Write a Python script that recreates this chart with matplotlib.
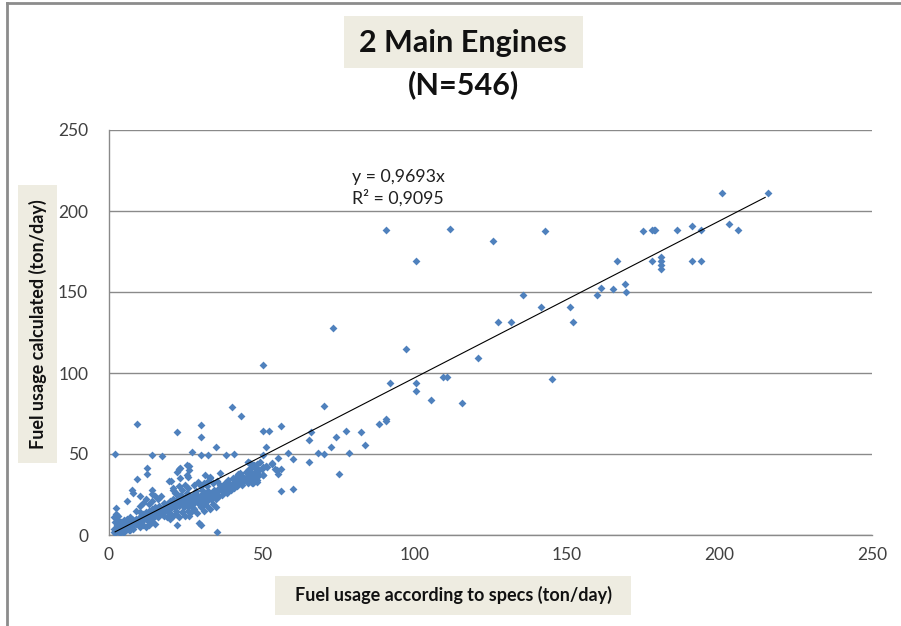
import matplotlib
matplotlib.use("Agg")
import matplotlib.pyplot as plt
from matplotlib.patches import Rectangle
from matplotlib.lines import Line2D

# --- data (spec fuel, calculated fuel), ton/day ---
# sparse points, x > ~45
spec_sparse = [90.7, 111.8, 125.8, 143.0, 100.7, 166.4, 161.2, 165.2, 169.0, 169.3,
               159.9, 135.6, 141.6, 151.0, 151.9, 127.6, 131.7, 97.4, 120.8, 92.1,
               100.7, 100.7, 109.6, 110.7, 145.3, 105.6, 115.8, 90.7, 201.0, 216.0,
               175.0, 177.9, 178.5, 179.0, 186.1, 191.1, 194.0, 203.0, 206.0, 177.9,
               180.9, 180.9, 180.9, 180.9, 191.1, 194.0, 73.5, 50.5, 70.4, 88.5,
               90.6, 56.4, 50.5, 52.5, 66.2, 77.6, 82.6, 65.4, 74.4, 72.6,
               83.8, 51.5, 50.5, 58.6, 68.5, 70.4, 78.5, 55.4, 60.4, 65.4,
               53.3, 50.5, 51.5, 48.4, 54.4, 56.4, 55.5, 50.5, 75.4, 47.9,
               48.4, 46.8, 56.4, 60.4, 46.2, 45.7, 47.3, 48.4, 47.1, 48.6,
               50.4, 51.9, 53.3, 55.0]
calc_sparse = [188.0, 189.0, 181.3, 187.6, 169.0, 169.0, 152.5, 151.9, 155.0, 150.0,
               148.3, 148.3, 140.7, 140.7, 131.3, 131.3, 131.3, 115.0, 109.0, 93.8,
               93.8, 89.0, 97.3, 97.3, 96.3, 83.3, 81.7, 71.4, 211.3, 211.3,
               187.9, 188.0, 188.0, 188.0, 188.0, 190.7, 188.0, 192.0, 188.0, 169.0,
               171.4, 169.0, 166.5, 164.0, 169.0, 169.0, 128.0, 105.0, 79.6, 68.5,
               70.4, 67.5, 64.0, 64.4, 63.4, 64.0, 63.4, 58.6, 60.5, 54.5,
               55.8, 54.5, 49.4, 50.4, 50.4, 50.0, 50.4, 47.7, 46.9, 45.0,
               44.0, 42.0, 42.4, 40.6, 40.6, 40.6, 37.7, 37.0, 37.7, 36.0,
               32.9, 31.9, 27.2, 28.2, 44.4, 45.2, 43.2, 41.2, 32.3, 34.0,
               37.0, 42.2, 44.3, 40.1]

# scattered points around the dense cluster, x < ~45
spec_spread = [40.3, 43.3, 9.1, 22.2, 30.3, 30.3, 35.2, 27.2, 2.0, 14.1,
               17.3, 30.3, 32.6, 38.4, 40.9, 45.6, 47.5, 12.4, 12.4, 22.9,
               22.2, 26.3, 25.4, 26.0, 9.1, 19.5, 20.2, 33.1, 32.6, 35.3,
               41.9, 42.4, 45.7, 7.4, 8.0, 14.1, 14.1, 21.1, 21.6, 2.3,
               2.3, 5.8, 10.2, 26.3, 28.7, 29.4, 30.3, 22.2, 35.3, 39.1,
               40.8, 31.5, 33.1, 34.2, 36.4, 38.6, 40.2, 42.4, 42.9, 23.3,
               23.3, 24.4, 26.0, 27.6, 25.5, 26.2]
calc_spread = [79.2, 73.5, 68.7, 63.4, 68.1, 60.5, 54.5, 51.2, 50.2, 49.4,
               49.0, 49.4, 49.4, 49.4, 50.0, 44.9, 43.2, 41.2, 37.7, 40.6,
               39.1, 42.6, 37.0, 36.0, 34.4, 33.5, 33.5, 35.6, 33.5, 33.1,
               32.9, 37.5, 36.4, 27.8, 25.7, 27.8, 25.3, 27.8, 25.7, 16.5,
               13.0, 21.2, 24.1, 11.7, 13.4, 7.6, 6.0, 6.0, 1.9, 27.8,
               29.8, 37.0, 35.0, 31.9, 38.0, 32.9, 28.8, 37.0, 35.0, 41.2,
               35.0, 21.6, 19.6, 16.5, 43.0, 40.0]

# dense cluster near the origin
spec_dense = [1.5, 2.0, 2.5, 3.0, 3.0, 3.5, 4.0, 4.0, 4.5, 5.0, 5.0, 5.5, 6.0, 6.0, 6.5,
              7.0, 7.0, 7.5, 8.0, 8.0, 2.0, 2.5, 3.0, 1.8, 4.0, 5.0, 6.0, 6.5, 7.0, 8.0,
              3.5, 4.5, 5.5, 6.0, 7.5, 8.0, 2.0, 1.5, 2.5, 3.0,
              8.5, 9.0, 9.0, 9.5, 10.0, 10.0, 10.5, 11.0, 11.0, 11.5, 12.0, 12.0, 12.5,
              13.0, 13.0, 13.5, 14.0, 14.0, 14.5, 15.0, 15.0, 15.5, 16.0, 16.0, 16.5,
              17.0, 17.0, 17.5, 18.0, 18.0, 18.5, 19.0, 19.0, 19.5, 20.0, 20.0,
              10.0, 11.0, 12.0, 13.0, 14.0, 15.0, 9.0, 10.0, 16.0, 17.0, 18.0, 19.0,
              20.0, 15.0, 13.0, 12.0, 14.0, 10.0, 11.0,
              20.0, 21.0, 21.0, 21.5, 22.0, 22.0, 22.5, 23.0, 23.0, 23.5, 24.0, 24.0,
              24.5, 25.0, 25.0, 25.5, 26.0, 26.0, 26.5, 27.0, 27.0, 27.5, 28.0, 28.0,
              28.5, 29.0, 29.0, 29.5, 30.0, 30.0, 30.5, 31.0, 31.0, 31.5, 32.0, 32.0,
              32.5, 33.0, 33.0, 33.5, 34.0, 34.0, 34.5, 35.0, 35.0,
              21.0, 22.0, 23.0, 24.0, 25.0, 26.0, 28.0, 29.0, 30.0, 31.0, 32.0,
              20.0, 21.0, 22.0, 23.0, 24.0, 25.0, 26.0, 27.0, 28.0, 30.0, 31.0, 32.0,
              33.0, 34.0, 35.0,
              35.5, 36.0, 36.0, 36.5, 37.0, 37.0, 37.5, 38.0, 38.0, 38.5, 39.0, 39.0,
              40.0, 40.0, 40.5, 41.0, 41.0, 41.5, 42.0, 42.0, 43.0, 43.0, 43.5, 44.0,
              44.0, 45.0, 45.0, 45.5, 46.0, 46.0, 46.5, 47.0, 47.0, 47.5, 48.0, 48.0,
              48.5, 49.0, 49.0, 49.5, 50.0,
              3.2, 4.2, 5.2, 6.2, 7.2, 8.2, 9.2, 10.2, 11.2, 12.2, 13.2, 14.2, 2.8,
              3.8, 4.8, 5.8, 6.8, 7.8, 8.8, 9.8, 10.8, 11.8, 12.8, 13.8, 14.8, 15.8]
calc_dense = [2.0, 1.5, 3.0, 2.5, 4.0, 5.0, 3.0, 6.0, 4.0, 5.0, 2.0, 7.0, 4.0, 6.0, 8.0,
              5.0, 3.0, 7.0, 6.0, 9.0, 4.0, 6.0, 7.0, 3.5, 8.0, 9.0, 10.0, 3.0, 11.0, 4.0,
              1.5, 2.0, 3.5, 5.5, 8.5, 7.5, 8.0, 11.0, 10.0, 12.0,
              8.0, 7.0, 10.0, 9.0, 8.0, 11.0, 12.0, 9.0, 13.0, 10.0, 11.0, 14.0, 9.0,
              12.0, 15.0, 13.0, 10.0, 16.0, 13.0, 12.0, 17.0, 14.0, 15.0, 11.0, 18.0,
              14.0, 16.0, 13.0, 17.0, 20.0, 15.0, 16.0, 19.0, 14.0, 18.0, 21.0,
              18.0, 20.0, 22.0, 19.0, 21.0, 24.0, 15.0, 14.0, 22.0, 24.0, 12.0, 11.0,
              13.0, 7.0, 6.0, 5.0, 8.0, 5.0, 6.0,
              16.0, 19.0, 22.0, 17.0, 20.0, 15.0, 23.0, 18.0, 21.0, 25.0, 19.0, 22.0,
              17.0, 20.0, 23.0, 26.0, 21.0, 18.0, 24.0, 22.0, 19.0, 25.0, 23.0, 20.0,
              27.0, 21.0, 24.0, 19.0, 22.0, 25.0, 28.0, 23.0, 20.0, 26.0, 24.0, 21.0,
              27.0, 23.0, 25.0, 22.0, 26.0, 24.0, 28.0, 25.0, 22.0,
              29.0, 26.0, 30.0, 28.0, 31.0, 29.0, 31.0, 33.0, 30.0, 32.0, 30.0,
              10.0, 12.0, 13.0, 11.0, 14.0, 12.0, 15.0, 14.0, 16.0, 17.0, 15.0, 18.0,
              16.0, 19.0, 17.0,
              27.0, 29.0, 24.0, 31.0, 27.0, 25.0, 30.0, 28.0, 32.0, 26.0, 30.0, 34.0,
              31.0, 28.0, 35.0, 33.0, 29.0, 36.0, 32.0, 30.0, 34.0, 38.0, 31.0, 36.0,
              33.0, 35.0, 39.0, 32.0, 37.0, 41.0, 34.0, 38.0, 36.0, 42.0, 39.0, 35.0,
              44.0, 40.0, 37.0, 45.0, 41.0,
              3.8, 3.5, 4.5, 5.0, 6.5, 7.0, 8.5, 9.5, 10.5, 11.0, 12.5, 13.5, 2.2,
              2.8, 6.0, 4.5, 6.0, 9.5, 6.5, 7.5, 9.0, 12.0, 10.5, 11.5, 16.0, 13.0]

spec = spec_sparse + spec_spread + spec_dense
calc = calc_sparse + calc_spread + calc_dense

slope = 0.9693
r2 = 0.9095
trend_x = [2, 215]

x_ticks = [0, 50, 100, 150, 200, 250]
y_ticks = [0, 50, 100, 150, 200, 250]

W, H = 901, 626
BEIGE = "#EEECE1"
GRID = "#8A8A8A"
BLUE = "#4F81BD"
plt.rcParams["font.family"] = ["Lato", "DejaVu Sans"]

fig = plt.figure(figsize=(W / 100, H / 100), dpi=100)


def fx(px):
    return px / W


def fy(py):
    return 1 - py / H


ax = fig.add_axes([fx(109), fy(535), fx(872) - fx(109), fy(130) - fy(535)])

ax.scatter(spec, calc, marker="D", s=16, color=BLUE, linewidths=0, zorder=3)
ax.plot(trend_x, [slope * v for v in trend_x], color="black", linewidth=0.8, zorder=4)

ax.set_xlim(0, 250)
ax.set_ylim(0, 250)
ax.set_xticks(x_ticks)
ax.set_yticks(y_ticks)
ax.yaxis.grid(True, color=GRID, linewidth=1)
ax.set_axisbelow(True)
for s in ["top", "right"]:
    ax.spines[s].set_visible(False)
for s in ["left", "bottom"]:
    ax.spines[s].set_color(GRID)
    ax.spines[s].set_linewidth(1)
ax.tick_params(axis="both", length=0, labelsize=12.5, colors="#404040")
ax.tick_params(axis="y", pad=15)
ax.tick_params(axis="x", pad=9)

# trendline label
fig.text(fx(352), fy(177), "y = 0,9693x", fontsize=12.8, color="#202020", va="center", ha="left")
fig.text(fx(352), fy(198), "R² = 0,9095", fontsize=12.8, color="#202020", va="center", ha="left")

# beige boxes behind title and axis titles
for (x0, y0, x1, y1) in [(344, 16, 583, 68), (18, 185, 57, 463), (275, 576, 631, 615)]:
    fig.patches.append(Rectangle((fx(x0), fy(y1)), fx(x1) - fx(x0), fy(y0) - fy(y1),
                                 transform=fig.transFigure, facecolor=BEIGE,
                                 edgecolor="none", zorder=0))

fig.text(fx(463), fy(43), "2 Main Engines", fontsize=22, fontweight="bold",
         ha="center", va="center", color="#111111")
fig.text(fx(463), fy(85), "(N=546)", fontsize=22, fontweight="bold",
         ha="center", va="center", color="#111111")
fig.text(fx(453), fy(595), "Fuel usage according to specs (ton/day)", fontsize=13,
         fontweight="bold", ha="center", va="center", color="#111111")
fig.text(fx(37.5), fy(324), "Fuel usage calculated (ton/day)", fontsize=13,
         fontweight="bold", ha="center", va="center", rotation=90, color="#111111")

# chart area border (top and left visible)
fig.lines.append(Line2D([fx(7), 1], [fy(3), fy(3)], transform=fig.transFigure,
                        color="#8C8C8C", linewidth=2))
fig.lines.append(Line2D([fx(7), fx(7)], [fy(3), 0], transform=fig.transFigure,
                        color="#8C8C8C", linewidth=2))

fig.savefig("out.png", dpi=100)
